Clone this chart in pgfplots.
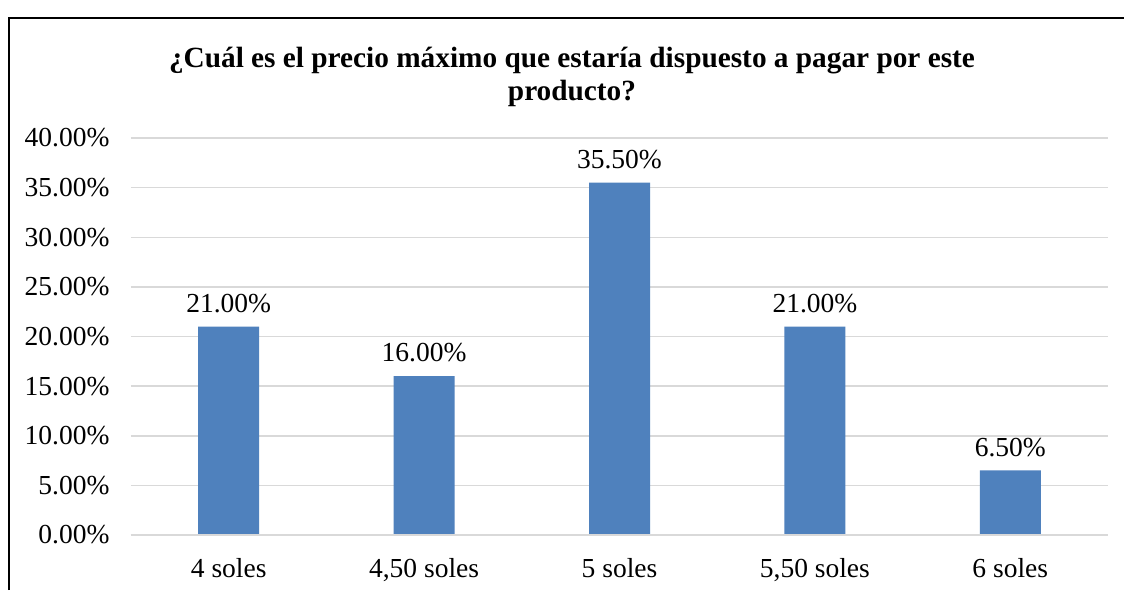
\documentclass[border=0pt]{standalone}
\usepackage{pgfplots}
\pgfplotsset{compat=1.18}
\usepackage{fontspec}
\setmainfont{Liberation Serif}
\definecolor{barblue}{HTML}{4F81BD}
\definecolor{gridgray}{HTML}{D9D9D9}
\begin{document}
\begin{tikzpicture}
\begin{scope}[x=0.5pt,y=-0.5pt]
\useasboundingbox (0,0) rectangle (1124,590);
\fill[white] (0,0) rectangle (1124,590);
\draw[line width=1pt] (8.5,590) -- (8.5,17.5) -- (1124,17.5);
\node[anchor=base,font=\fontsize{14.65}{16}\selectfont\bfseries] at (572,67) {¿Cuál es el precio máximo que estaría dispuesto a pagar por este};
\node[anchor=base,font=\fontsize{14.65}{16}\selectfont\bfseries] at (572,100) {producto?};
\end{scope}
\begin{axis}[
  at={(65.5pt,-267.5pt)}, anchor=south west,
  scale only axis, width=488.5pt, height=198.5pt,
  xmin=-0.5, xmax=4.5, ymin=0, ymax=40,
  xtick=data, xticklabels={4 soles,{4,50 soles},5 soles,{5,50 soles},6 soles},
  ytick={0,5,...,40},
  yticklabel={\pgfmathprintnumber[fixed,fixed zerofill,precision=2]{\tick}\%},
  /pgf/number format/assume math mode=true,
  major tick length=0pt,
  axis line style={draw=none},
  ymajorgrids, grid style={gridgray, line width=0.75pt},
  tick label style={font=\fontsize{13.75}{15}\selectfont},
  yticklabel style={xshift=-7.2pt},
  xticklabel style={yshift=-8pt},
  ybar, bar width=30.5pt,
  nodes near coords={\pgfmathprintnumber[fixed,fixed zerofill,precision=2]{\pgfplotspointmeta}\%},
  nodes near coords style={font=\fontsize{13.75}{15}\selectfont, yshift=3.5pt},
  clip=false,
]
\addplot[fill=barblue, draw=none] coordinates {(0,21) (1,16) (2,35.5) (3,21) (4,6.5)};
\draw[gridgray, line width=0.75pt] (axis cs:-0.5,0) -- (axis cs:4.5,0);
\end{axis}
\end{tikzpicture}
\end{document}
